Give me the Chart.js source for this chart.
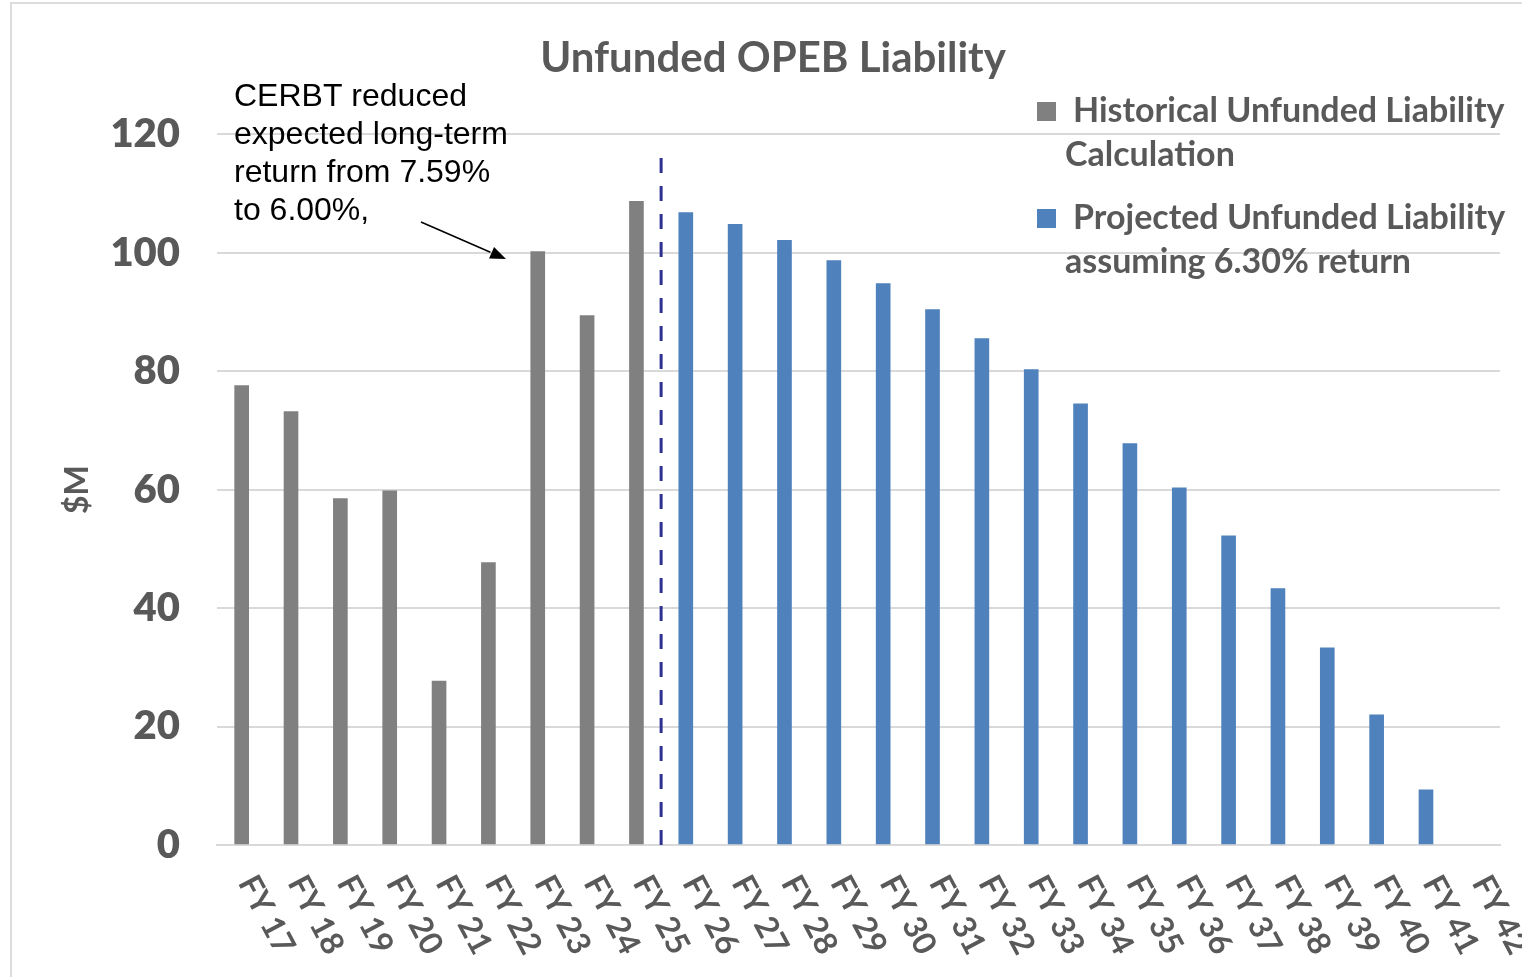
<!DOCTYPE html>
<html>
<head>
<meta charset="utf-8">
<title>Unfunded OPEB Liability</title>
<script src="https://cdn.jsdelivr.net/npm/chart.js@4.4.1/dist/chart.umd.min.js"></script>
<style>
  html, body { margin: 0; padding: 0; background: #fff; }
  #wrap { width: 1522px; height: 977px; }
</style>
</head>
<body>
<div id="wrap"><canvas id="opebChart" width="1522" height="977"></canvas></div>
<script>
// Fiscal years along the x axis
const fiscalYears = ['FY 17', 'FY 18', 'FY 19', 'FY 20', 'FY 21', 'FY 22', 'FY 23', 'FY 24', 'FY 25',
  'FY 26', 'FY 27', 'FY 28', 'FY 29', 'FY 30', 'FY 31', 'FY 32', 'FY 33', 'FY 34', 'FY 35',
  'FY 36', 'FY 37', 'FY 38', 'FY 39', 'FY 40', 'FY 41', 'FY 42'];

// Historical unfunded liability, $M (FY 17 - FY 25)
const historicalValues = [77.6, 73.2, 58.5, 59.8, 27.7, 47.7, 100.2, 89.4, 108.7];

// Projected unfunded liability at 6.30% return, $M (FY 26 - FY 41)
const projectedValues = [106.8, 104.8, 102.1, 98.7, 94.8, 90.4, 85.5, 80.3, 74.5, 67.8,
  60.3, 52.2, 43.3, 33.3, 22.0, 9.3];

const yTicks = [0, 20, 40, 60, 80, 100, 120];

const legendLabels = [
  ['Historical Unfunded Liability', 'Calculation'],
  ['Projected Unfunded Liability', 'assuming 6.30% return']
];

const noteLines = ['CERBT reduced', 'expected long-term', 'return from 7.59%', 'to 6.00%,'];

const GREY_TEXT = '#595959';
const GRID = '#d9d9d9';
const HIST_COLOR = '#808080';
const PROJ_COLOR = '#4f81bd';

// spread the two series over the full year axis
const histSeries = fiscalYears.map((_, i) => i < historicalValues.length ? historicalValues[i] : null);
const projSeries = fiscalYears.map((_, i) => {
  const j = i - historicalValues.length;
  return j >= 0 && j < projectedValues.length ? projectedValues[j] : null;
});

// thin frame on the top and left edges
const framePlugin = {
  id: 'frame',
  beforeDraw(chart) {
    const ctx = chart.ctx;
    ctx.save();
    ctx.fillStyle = '#fff';
    ctx.fillRect(0, 0, chart.width, chart.height);
    ctx.strokeStyle = '#dcdcdc';
    ctx.lineWidth = 2;
    ctx.beginPath();
    ctx.moveTo(11, chart.height);
    ctx.lineTo(11, 3);
    ctx.lineTo(chart.width, 3);
    ctx.stroke();
    ctx.restore();
  }
};

// x labels, separator, note with arrow, and the legend
const extrasPlugin = {
  id: 'extras',
  afterDraw(chart) {
    const ctx = chart.ctx;
    const xs = chart.scales.x;
    const ys = chart.scales.y;
    const area = chart.chartArea;

    // rotated year labels (clockwise, reading downwards)
    ctx.save();
    ctx.fillStyle = GREY_TEXT;
    ctx.font = '700 32px Lato';
    ctx.textAlign = 'left';
    ctx.textBaseline = 'middle';
    fiscalYears.forEach((label, i) => {
      const x = xs.getPixelForTick(i);
      ctx.save();
      ctx.translate(x + 5, area.bottom + 33);
      ctx.rotate(62 * Math.PI / 180);
      ctx.fillText(label, 0, 0);
      ctx.restore();
    });
    ctx.restore();

    // dashed divider between actual and projected years
    const divX = xs.getPixelForValue(historicalValues.length - 0.5);
    ctx.save();
    ctx.strokeStyle = '#2e3192';
    ctx.lineWidth = 3;
    ctx.setLineDash([15, 13]);
    ctx.beginPath();
    ctx.moveTo(divX, ys.getPixelForValue(116));
    ctx.lineTo(divX, area.bottom);
    ctx.stroke();
    ctx.restore();

    // note about the CERBT return assumption
    ctx.save();
    ctx.fillStyle = '#000';
    ctx.font = '32px "Liberation Sans", Arial, sans-serif';
    ctx.textAlign = 'left';
    ctx.textBaseline = 'middle';
    noteLines.forEach((line, i) => ctx.fillText(line, 234, 97 + i * 38));

    const ax0 = 421, ay0 = 222, ax1 = 506, ay1 = 259;
    const ang = Math.atan2(ay1 - ay0, ax1 - ax0);
    const head = 17;
    ctx.strokeStyle = '#000';
    ctx.lineWidth = 1.5;
    ctx.beginPath();
    ctx.moveTo(ax0, ay0);
    ctx.lineTo(ax1 - head * Math.cos(ang), ay1 - head * Math.sin(ang));
    ctx.stroke();
    ctx.beginPath();
    ctx.moveTo(ax1, ay1);
    ctx.lineTo(ax1 - head * Math.cos(ang - 0.38), ay1 - head * Math.sin(ang - 0.38));
    ctx.lineTo(ax1 - head * Math.cos(ang + 0.38), ay1 - head * Math.sin(ang + 0.38));
    ctx.closePath();
    ctx.fill();
    ctx.restore();

    // legend
    ctx.save();
    ctx.font = '700 34px Lato';
    ctx.textAlign = 'left';
    ctx.textBaseline = 'middle';
    chart.data.datasets.forEach((ds, i) => {
      const top = 111 + i * 107;
      ctx.fillStyle = ds.backgroundColor;
      ctx.fillRect(1037, top - 9, 19, 19);
      ctx.fillStyle = GREY_TEXT;
      ctx.fillText(legendLabels[i][0], 1073, top);
      ctx.fillText(legendLabels[i][1], 1065, top + 44);
    });
    ctx.restore();
  }
};

new Chart(document.getElementById('opebChart'), {
  type: 'bar',
  data: {
    labels: fiscalYears,
    datasets: [
      { label: legendLabels[0].join(' '), data: histSeries, backgroundColor: HIST_COLOR, barThickness: 14 },
      { label: legendLabels[1].join(' '), data: projSeries, backgroundColor: PROJ_COLOR, barThickness: 14 }
    ]
  },
  options: {
    responsive: false,
    animation: false,
    devicePixelRatio: 1,
    layout: { padding: { left: 46, right: 22, top: 0, bottom: 0 } },
    plugins: {
      legend: { display: false },
      tooltip: { enabled: false },
      title: {
        display: true,
        text: 'Unfunded OPEB Liability',
        color: GREY_TEXT,
        font: { family: 'Lato', size: 42, weight: '700' },
        padding: { top: 33, bottom: 51 }
      }
    },
    scales: {
      x: {
        stacked: true,
        grid: { display: false },
        border: { display: true, color: GRID, width: 2 },
        ticks: { display: false },
        afterFit(scale) { scale.height = 132; }
      },
      y: {
        stacked: true,
        min: yTicks[0],
        max: yTicks[yTicks.length - 1],
        afterBuildTicks(scale) { scale.ticks = yTicks.map(v => ({ value: v })); },
        grid: { color: GRID, lineWidth: 2, drawTicks: false },
        border: { display: false },
        ticks: {
          color: GREY_TEXT,
          padding: 37,
          font: { family: 'Lato', size: 40, weight: '800' }
        },
        title: {
          display: true,
          text: '$M',
          color: GREY_TEXT,
          font: { family: 'Lato', size: 32, weight: '700' },
          padding: { top: 12, bottom: 0 }
        },
        afterFit(scale) { scale.width = 171; }
      }
    }
  },
  plugins: [framePlugin, extrasPlugin]
});
</script>
</body>
</html>
